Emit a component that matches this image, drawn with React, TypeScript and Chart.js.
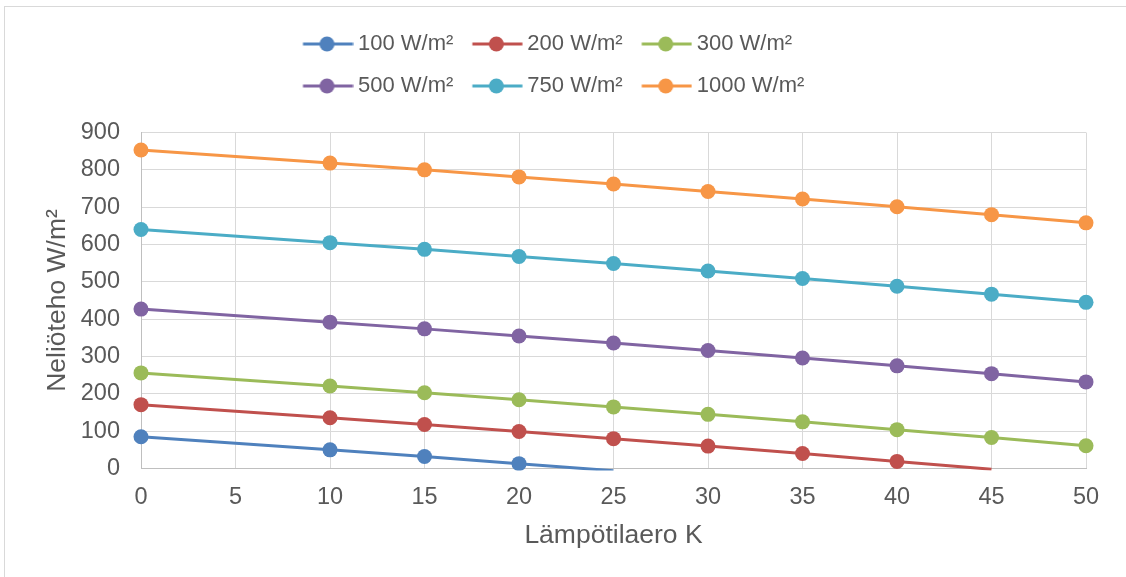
import React, { useEffect, useRef } from 'react';
import { Chart, registerables } from 'chart.js';

Chart.register(...registerables);

// ---- data ----
const deltaT = [0, 10, 15, 20, 25, 30, 35, 40, 45, 50];
const seriesLabels = ['100 W/m²', '200 W/m²', '300 W/m²', '500 W/m²', '750 W/m²', '1000 W/m²'];
const p100 = [85, 50, 32, 13, -6, null, null, null, null, null];
const p200 = [171, 136, 118, 99, 80, 60, 40, 19, -2, null];
const p300 = [256, 221, 203, 184, 165, 145, 125, 104, 83, 61];
const p500 = [427, 392, 374, 355, 336, 316, 296, 275, 254, 232];
const p750 = [640, 605, 587, 568, 549, 529, 509, 488, 467, 445];
const p1000 = [853, 818, 800, 781, 762, 742, 722, 701, 680, 658];
const seriesValues = [p100, p200, p300, p500, p750, p1000];
const colors = ['#4F81BD', '#C0504D', '#9BBB59', '#8064A2', '#4BACC6', '#F79646'];
const xTitle = 'Lämpötilaero K';
const yTitle = 'Neliöteho W/m²';

const FAMILY = '"Liberation Sans", Arial, sans-serif';
const TEXT = '#595959';
const LEGEND_EXTRA = 25.5;
const LEGEND_WRAP_WIDTH = 560;
const LEGEND_LEFT = 284;

function legendIcon(color: string): HTMLCanvasElement {
  const c = document.createElement('canvas');
  c.width = 56;
  c.height = 18;
  const g = c.getContext('2d')!;
  g.strokeStyle = color;
  g.lineWidth = 3;
  g.beginPath();
  g.moveTo(5.5, 9);
  g.lineTo(55.5, 9);
  g.stroke();
  g.fillStyle = color;
  g.beginPath();
  g.arc(29.5, 9, 7.5, 0, Math.PI * 2);
  g.fill();
  return c;
}

const legendLayout = {
  id: 'legendLayout',
  beforeLayout(chart: any) {
    const lg = chart.legend;
    if (lg && !lg.__patched) {
      const origFit = lg.fit;
      const origDraw = lg.draw;
      lg.fit = function () {
        const mw = this.maxWidth;
        this.maxWidth = LEGEND_WRAP_WIDTH;
        origFit.call(this);
        this.maxWidth = mw;
        this.width = mw;
        this.height += LEGEND_EXTRA;
      };
      lg.draw = function (...args: any[]) {
        const l = this.left;
        const r = this.right;
        this.left = LEGEND_LEFT;
        this.right = LEGEND_LEFT + LEGEND_WRAP_WIDTH;
        origDraw.apply(this, args);
        this.left = l;
        this.right = r;
      };
      lg.__patched = true;
    }
  },
};

export default function App() {
  const ref = useRef<HTMLCanvasElement>(null);

  useEffect(() => {
    if (!ref.current) return;
    const icons = colors.map(legendIcon);
    const datasets = seriesLabels.map((label, i) => ({
      label,
      data: deltaT.map((x, j) => ({ x, y: seriesValues[i][j] })),
      borderColor: colors[i],
      backgroundColor: colors[i],
      borderWidth: 3,
      pointRadius: (ctx: any) => (ctx.raw && ctx.raw.y !== null && ctx.raw.y < 0 ? 0 : 7.5),
      pointHoverRadius: 7.5,
      pointBackgroundColor: colors[i],
      pointBorderWidth: 0,
      tension: 0,
      clip: { left: 12, right: 12, top: 12, bottom: 2 },
    }));

    const chart = new Chart(ref.current, {
      type: 'line',
      data: { datasets },
      plugins: [legendLayout],
      options: {
        responsive: false,
        animation: false,
        layout: { padding: { top: 13, left: 0, right: 40, bottom: 0 } },
        plugins: {
          tooltip: { enabled: false },
          legend: {
            position: 'top',
            align: 'start',
            labels: {
              usePointStyle: true,
              pointStyleWidth: 43,
              padding: 20,
              color: TEXT,
              font: { size: 22, family: FAMILY },
              generateLabels: (ch: any) => {
                const items = (Chart.defaults as any).plugins.legend.labels.generateLabels(ch);
                return items.map((it: any, i: number) => ({ ...it, pointStyle: icons[i], fontColor: TEXT }));
              },
            },
          },
        },
        scales: {
          x: {
            type: 'linear',
            min: 0,
            max: 50,
            ticks: {
              stepSize: 5,
              color: TEXT,
              font: { size: 23.5, family: FAMILY },
              padding: 15,
              maxRotation: 0,
            },
            grid: { color: '#d9d9d9', lineWidth: 1, drawTicks: false },
            border: { color: '#bfbfbf', width: 1 },
            title: {
              display: true,
              text: xTitle,
              color: TEXT,
              font: { size: 26.5, family: FAMILY },
              padding: { top: 0, bottom: 25.8 },
            },
            afterFit: (s: any) => {
              s.height = 108.5;
            },
          },
          y: {
            type: 'linear',
            min: 0,
            max: 900,
            ticks: {
              stepSize: 100,
              color: TEXT,
              font: { size: 23.5, family: FAMILY },
              padding: 21,
            },
            grid: { color: '#d9d9d9', lineWidth: 1, drawTicks: false },
            border: { color: '#bfbfbf', width: 1 },
            title: {
              display: true,
              text: yTitle,
              color: TEXT,
              font: { size: 26.5, family: FAMILY },
              padding: { top: 41.8, bottom: 0 },
            },
            afterFit: (s: any) => {
              s.width = 141;
            },
          },
        },
      },
    } as any);
    return () => chart.destroy();
  }, []);

  return (
    <div
      style={{
        position: 'fixed',
        left: 0,
        top: 0,
        width: 1126,
        height: 577,
        overflow: 'hidden',
        background: '#ffffff',
      }}
    >
      <canvas ref={ref} width={1126} height={577} style={{ display: 'block' }} />
      <div
        style={{
          position: 'absolute',
          left: 4,
          top: 6,
          width: 1200,
          height: 700,
          borderTop: '1px solid #d9d9d9',
          borderLeft: '1px solid #d9d9d9',
          pointerEvents: 'none',
        }}
      />
    </div>
  );
}
